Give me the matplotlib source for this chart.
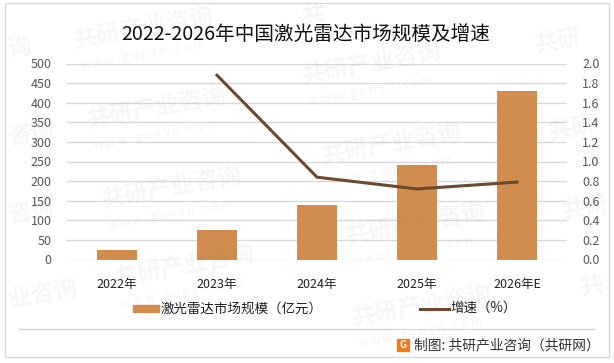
import matplotlib
matplotlib.use('Agg')
import matplotlib.pyplot as plt
from matplotlib.patches import Rectangle

plt.rcParams['font.family'] = ['Noto Sans CJK SC', 'DejaVu Sans']

# 数据
years = ['2022年', '2023年', '2024年', '2025年', '2026年E']
market = [25.5, 74, 138, 240, 431]
growth = [None, 1.88, 0.84, 0.72, 0.79]
left_ticks = [0, 50, 100, 150, 200, 250, 300, 350, 400, 450, 500]
right_ticks = [0.0, 0.2, 0.4, 0.6, 0.8, 1.0, 1.2, 1.4, 1.6, 1.8, 2.0]

W, H = 614, 363
fig = plt.figure(figsize=(W / 100, H / 100), dpi=100)
fig.patch.set_facecolor('white')

ax = fig.add_axes([67 / W, 1 - 259.5 / H, 500 / W, 196 / H])
ax.set_xlim(-0.5, 4.5)
ax.set_ylim(0, 500)
ax.set_facecolor('none')
ax.set_yticks(left_ticks)
ax.set_xticks(range(5))
ax.set_xticklabels(years, fontsize=9, color='#222222')
ax.tick_params(axis='x', length=0, pad=13)
ax.tick_params(axis='y', length=0, pad=11, labelsize=9, labelcolor='#595959')
ax.grid(axis='y', color='#d9d9d9', lw=1)
ax.set_axisbelow(True)
for s in ax.spines.values():
    s.set_visible(False)

bars = ax.bar(range(5), market, width=0.4, color='#d28c4e', zorder=2)

ax2 = ax.twinx()
ax2.set_ylim(0, 2)
ax2.set_yticks(right_ticks)
ax2.set_yticklabels(['%.1f' % t for t in right_ticks])
ax2.tick_params(axis='y', length=0, pad=11, labelsize=9, labelcolor='#595959')
for s in ax2.spines.values():
    s.set_visible(False)
line, = ax2.plot(range(1, 5), growth[1:], color='#6b4a2f', lw=2.2, zorder=3)

fig.text(306 / W, 1 - 34 / H, '2022-2026年中国激光雷达市场规模及增速', fontsize=14.1,
         color='#111111', ha='center', va='center')

# 图例
fig.patches.append(Rectangle((133 / W, 1 - 312 / H), 26 / W, 7 / H, color='#d28c4e',
                             transform=fig.transFigure))
fig.text(161 / W, 1 - 308.5 / H, '激光雷达市场规模（亿元）', fontsize=9.7, color='#222222', va='center')
fig.add_artist(plt.Line2D([420 / W, 449 / W], [1 - 308.5 / H] * 2, color='#6b4a2f', lw=2.2,
                          transform=fig.transFigure))
fig.text(450 / W, 1 - 308 / H, '增速（%）', fontsize=9.7, color='#222222', va='center')

# 外框和页脚
fig.patches.append(Rectangle((4.5 / W, 1 - 357 / H), 604.5 / W, 354.5 / H, fill=False,
                             edgecolor='#d9d9d9', lw=1, transform=fig.transFigure))
fig.add_artist(plt.Line2D([19 / W, 594 / W], [1 - 329 / H] * 2, color='#d9d9d9', lw=1,
                          transform=fig.transFigure))
fig.patches.append(Rectangle((396.5 / W, 1 - 351 / H), 12 / W, 12 / H, color='#ef7d22',
                             transform=fig.transFigure))
fig.text(402.5 / W, 1 - 345 / H, 'G', fontsize=7, fontweight='bold', color='white',
         ha='center', va='center')
fig.text(414 / W, 1 - 345 / H, '制图: 共研产业咨询（共研网）', fontsize=9.9, color='#333333', va='center')

# 水印：左下角坐标，文字
marks = [(72, 52, '共研产业咨询'), (85, 132, '共研产业咨询'), (100, 212, '共研产业咨询'),
         (113, 290, '共研产业咨询'), (300, 88, '共研产业咨询'), (320, 168, '共研产业咨询'),
         (344, 248, '共研产业咨询'), (350, 330, '共研产业咨询'), (533, 58, '共研'),
         (547, 145, '共研'), (560, 225, '共研'), (578, 300, '共'), (6, 62, '询'),
         (6, 150, '咨询'), (6, 228, '咨询'), (6, 312, '业咨询'), (300, 30, '共')]
for x, y, s in marks:
    t = fig.text(x / W, 1 - y / H, s, fontsize=17, fontweight='bold', color='#808080',
                 alpha=0.07, rotation=10, ha='left', va='bottom', zorder=10)
    if len(s) > 3:
        fig.text((x + 8) / W, 1 - (y + 20) / H, 'w w w . g o n y n . c o m', fontsize=8.5,
                 color='#808080', alpha=0.09, rotation=10, ha='left', va='bottom', zorder=10)

fig.savefig('out.png', dpi=100)
